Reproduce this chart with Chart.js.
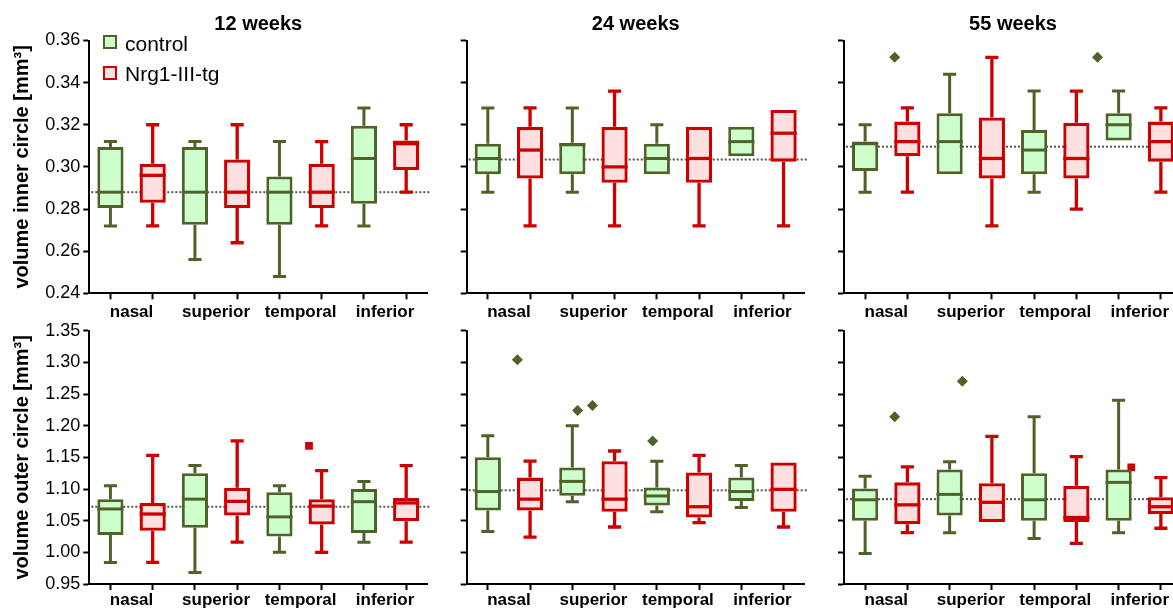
<!DOCTYPE html>
<html><head><meta charset="utf-8">
<script src="https://cdn.jsdelivr.net/npm/chart.js@4.4.0/dist/chart.umd.min.js"></script>
<style>
html,body{margin:0;padding:0;background:#fff;overflow:hidden;width:1173px;height:610px}
#wrap{position:relative;width:1173px;height:610px;overflow:hidden;background:#fff}
canvas{position:absolute}
.lg{position:absolute;font:21px 'Liberation Sans',Arial,sans-serif;line-height:21px;color:#000;white-space:nowrap;z-index:5}
.sw{position:absolute;width:14px;height:14px;box-sizing:border-box;border:2px solid;z-index:5}
</style></head>
<body><div id="wrap">
<canvas id="c0" width="440" height="330" style="left:0px;top:0px"></canvas>
<canvas id="c1" width="380" height="330" style="left:440px;top:0px"></canvas>
<canvas id="c2" width="380" height="330" style="left:820px;top:0px"></canvas>
<canvas id="c3" width="440" height="300" style="left:0px;top:310px"></canvas>
<canvas id="c4" width="380" height="300" style="left:440px;top:310px"></canvas>
<canvas id="c5" width="380" height="300" style="left:820px;top:310px"></canvas>
<div class="sw" id="sw0" style="left:103px;top:35px"></div><div class="lg" id="lg0" style="left:125px;top:33px"></div>
<div class="sw" id="sw1" style="left:103px;top:66px"></div><div class="lg" id="lg1" style="left:125px;top:63px"></div>
</div>
<script>
// ---------- data ----------
const regions = ['nasal', 'superior', 'temporal', 'inferior'];
const groupNames = ['control', 'Nrg1-III-tg'];
const timeTitles = ['12 weeks', '24 weeks', '55 weeks'];
const yTitles = ['volume inner circle [mm³]', 'volume outer circle [mm³]'];
const innerTicks = [0.24, 0.26, 0.28, 0.30, 0.32, 0.34, 0.36];
const outerTicks = [0.95, 1.00, 1.05, 1.10, 1.15, 1.20, 1.25, 1.30, 1.35];

// box summaries per region: [min, q1, median, q3, max]
const inner12Control = [[0.272,0.2805,0.288,0.3095,0.312],[0.256,0.2725,0.288,0.3095,0.312],[0.248,0.2725,0.288,0.2955,0.312],[0.272,0.2825,0.304,0.3195,0.328]];
const inner12Tg      = [[0.272,0.283,0.296,0.3015,0.320],[0.264,0.2805,0.288,0.3035,0.320],[0.272,0.2805,0.288,0.3015,0.312],[0.288,0.2985,0.311,0.3125,0.320]];
const inner24Control = [[0.288,0.2965,0.304,0.311,0.328],[0.288,0.2965,0.3105,0.3115,0.328],[0.2965,0.2965,0.304,0.311,0.320],[0.305,0.305,0.312,0.319,0.319]];
const inner24Tg      = [[0.272,0.2945,0.308,0.319,0.328],[0.272,0.2925,0.300,0.319,0.336],[0.272,0.2925,0.304,0.319,0.319],[0.272,0.3025,0.316,0.327,0.327]];
const inner55Control = [[0.288,0.298,0.311,0.312,0.320],[0.2965,0.2965,0.312,0.3255,0.344],[0.288,0.2965,0.308,0.3175,0.336],[0.3125,0.3125,0.320,0.3255,0.336]];
const inner55Tg      = [[0.288,0.305,0.312,0.3215,0.328],[0.272,0.2945,0.304,0.3235,0.352],[0.280,0.2945,0.304,0.321,0.336],[0.288,0.3025,0.312,0.3215,0.328]];
const outer12Control = [[0.984,1.0275,1.0685,1.084,1.105],[0.968,1.039,1.084,1.125,1.137],[1.000,1.025,1.056,1.095,1.105],[1.016,1.0305,1.080,1.100,1.112]];
const outer12Tg      = [[0.984,1.034,1.0605,1.078,1.153],[1.016,1.058,1.0805,1.102,1.176],[1.000,1.044,1.073,1.084,1.129],[1.016,1.049,1.078,1.086,1.137]];
const outer24Control = [[1.033,1.066,1.096,1.150,1.184],[1.080,1.0895,1.112,1.134,1.200],[1.064,1.074,1.089,1.1025,1.144],[1.071,1.081,1.096,1.118,1.137]];
const outer24Tg      = [[1.024,1.066,1.084,1.118,1.144],[1.040,1.064,1.084,1.144,1.160],[1.047,1.055,1.072,1.126,1.153],[1.040,1.064,1.0995,1.142,1.142]];
const outer55Control = [[0.998,1.050,1.083,1.101,1.120],[1.031,1.058,1.0915,1.131,1.143],[1.022,1.050,1.083,1.125,1.214],[1.031,1.050,1.1105,1.131,1.240]];
const outer55Tg      = [[1.031,1.0445,1.075,1.1105,1.135],[1.048,1.048,1.079,1.109,1.183],[1.014,1.048,1.055,1.105,1.151],[1.038,1.0605,1.072,1.087,1.118]];

// outliers per region
const inner12ControlOut = [[],[],[],[]];
const inner12TgOut      = [[],[],[],[]];
const inner24ControlOut = [[],[],[],[]];
const inner24TgOut      = [[],[],[],[]];
const inner55ControlOut = [[0.352],[],[],[0.352]];
const inner55TgOut      = [[],[],[],[]];
const outer12ControlOut = [[],[],[],[]];
const outer12TgOut      = [[],[],[1.168],[]];
const outer24ControlOut = [[1.304],[1.224,1.232],[1.176],[]];
const outer24TgOut      = [[],[],[],[]];
const outer55ControlOut = [[1.214],[1.270],[],[]];
const outer55TgOut      = [[],[],[],[1.134]];

// dotted reference level per panel
const innerRef = [0.288, 0.3035, 0.3096];
const outerRef = [1.072, 1.098, 1.084];

// ---------- styles / layout ----------
const FONT = "'Liberation Sans', Arial, sans-serif";
const GREEN = '#4f6228', GREEN_FILL = '#ccffcc';
const RED = '#cc0000', RED_FILL = '#ffe0e0';
const colLayout = [{yW: 89.3, padR: 12.7, areaW: 338}, {yW: 26.7, padR: 15.3, areaW: 338}, {yW: 24, padR: 18, areaW: 338}];
const rowLayout = [{xH: 36.7, padTop: 0, tickPad: 3}, {xH: 26, padTop: 20.7, tickPad: 0.6}];

Chart.defaults.font.family = FONT;
Chart.defaults.color = '#000';

const boxPlugin = {
  id: 'boxplot',
  beforeDatasetsDraw(chart, args, opts) {
    const {ctx, chartArea, scales} = chart;
    const y = scales.y;
    const ry = y.getPixelForValue(opts.ref);
    ctx.save();
    ctx.strokeStyle = '#555';
    ctx.lineWidth = 2;
    ctx.setLineDash([2, 2]);
    ctx.beginPath();
    ctx.moveTo(chartArea.left + 2, ry);
    ctx.lineTo(chartArea.right + 3, ry);
    ctx.stroke();
    ctx.restore();
    chart.data.datasets.forEach((ds, i) => {
      if (!ds.stats) return;
      const meta = chart.getDatasetMeta(i);
      meta.data.forEach((el, j) => {
        const s = ds.stats[j];
        if (!s) return;
        const x = el.x, cw = el.width * 0.25;
        ctx.save();
        ctx.strokeStyle = ds.borderColor;
        ctx.lineWidth = ds.borderWidth;
        ctx.beginPath();
        if (s[4] > s[3]) {
          const p3 = y.getPixelForValue(s[3]), pm = y.getPixelForValue(s[4]);
          ctx.moveTo(x, p3); ctx.lineTo(x, pm);
          ctx.moveTo(x - cw, pm); ctx.lineTo(x + cw, pm);
        }
        if (s[0] < s[1]) {
          const p1 = y.getPixelForValue(s[1]), pn = y.getPixelForValue(s[0]);
          ctx.moveTo(x, p1); ctx.lineTo(x, pn);
          ctx.moveTo(x - cw, pn); ctx.lineTo(x + cw, pn);
        }
        ctx.stroke();
        ctx.restore();
      });
    });
  },
  afterDatasetsDraw(chart) {
    const {ctx, scales} = chart;
    const y = scales.y;
    chart.data.datasets.forEach((ds, i) => {
      if (!ds.stats) return;
      const meta = chart.getDatasetMeta(i);
      meta.data.forEach((el, j) => {
        const s = ds.stats[j];
        if (!s) return;
        const pmed = y.getPixelForValue(s[2]);
        ctx.save();
        ctx.strokeStyle = ds.borderColor;
        ctx.lineWidth = ds.borderWidth;
        ctx.beginPath();
        ctx.moveTo(el.x - el.width / 2, pmed);
        ctx.lineTo(el.x + el.width / 2, pmed);
        ctx.stroke();
        ctx.restore();
      });
    });
  }
};

function interleave(stats, slot) {
  const out = new Array(8).fill(null);
  stats.forEach((s, r) => { out[r * 2 + slot] = s; });
  return out;
}
function outlierPoints(outs, slot) {
  const pts = [];
  outs.forEach((vals, r) => {
    vals.forEach((v, k) => {
      const spread = vals.length > 1 ? (k - (vals.length - 1) / 2) * 0.44 : 0;
      pts.push({x: r * 2 + slot + spread, y: v});
    });
  });
  return pts;
}

function makePanel(id, row, col, ctrl, tg, ctrlOut, tgOut, ref, ticks) {
  const cl = colLayout[col], rl = rowLayout[row];
  const labels8 = [];
  regions.forEach(r => { labels8.push(r, r); });
  const ctrlStats = interleave(ctrl, 0), tgStats = interleave(tg, 1);
  new Chart(document.getElementById(id), {
    type: 'bar',
    data: {
      labels: labels8,
      datasets: [
        {label: groupNames[0], data: ctrlStats.map(s => s ? [s[1], s[3]] : null), stats: ctrlStats,
         backgroundColor: GREEN_FILL, borderColor: GREEN, borderWidth: 3, borderSkipped: false},
        {label: groupNames[1], data: tgStats.map(s => s ? [s[1], s[3]] : null), stats: tgStats,
         backgroundColor: RED_FILL, borderColor: RED, borderWidth: 3.3, borderSkipped: false},
        {type: 'scatter', label: groupNames[0] + ' outliers', xAxisID: 'xs', data: outlierPoints(ctrlOut, 0),
         pointStyle: 'rectRot', radius: 5.5, backgroundColor: GREEN, borderColor: GREEN, borderWidth: 0},
        {type: 'scatter', label: groupNames[1] + ' outliers', xAxisID: 'xs', data: outlierPoints(tgOut, 1),
         pointStyle: 'rect', radius: 5.5, backgroundColor: RED, borderColor: RED, borderWidth: 0}
      ]
    },
    options: {
      responsive: false,
      animation: false,
      grouped: false,
      categoryPercentage: 1,
      barPercentage: 0.62,
      layout: {padding: {left: 0, right: cl.padR, top: rl.padTop, bottom: 0}},
      plugins: {
        legend: {display: false},
        tooltip: {enabled: false},
        title: {display: row === 0, text: timeTitles[col], fullSize: false,
                font: {size: 20, weight: 'bold', family: FONT}, color: '#000', padding: {top: 12, bottom: 4.5}},
        boxplot: {ref: ref}
      },
      scales: {
        x: {
          type: 'category', offset: true,
          grid: {offset: false, drawOnChartArea: false, drawTicks: true, tickLength: 6, tickWidth: 2, tickColor: '#000', color: '#000'},
          border: {color: '#000', width: 2},
          ticks: {autoSkip: false, maxRotation: 0, minRotation: 0, labelOffset: cl.areaW / 16, padding: rl.tickPad,
                  font: {size: 17, weight: 'bold', family: FONT}, color: '#000',
                  callback: function(v, i) { return i % 2 === 0 ? this.getLabelForValue(v) : ''; }},
          afterFit: s => { s.height = rl.xH; }
        },
        xs: {type: 'linear', display: false, min: -0.5, max: 7.5},
        y: {
          type: 'linear', min: ticks[0], max: ticks[ticks.length - 1],
          afterBuildTicks: s => { s.ticks = ticks.map(v => ({value: v})); },
          grid: {drawOnChartArea: false, drawTicks: true, tickLength: 6, tickWidth: 2, tickColor: '#000', color: '#000'},
          border: {color: '#000', width: 2},
          ticks: {display: col === 0, padding: 3, font: {size: 18, family: FONT}, color: '#000',
                  callback: v => Number(v).toFixed(2)},
          title: {display: col === 0, text: yTitles[row], font: {size: 20, weight: 'bold', family: FONT}, color: '#000',
                  padding: {top: 10.5, bottom: 0}},
          afterFit: s => { s.width = cl.yW; }
        }
      }
    },
    plugins: [boxPlugin]
  });
}

makePanel('c0', 0, 0, inner12Control, inner12Tg, inner12ControlOut, inner12TgOut, innerRef[0], innerTicks);
makePanel('c1', 0, 1, inner24Control, inner24Tg, inner24ControlOut, inner24TgOut, innerRef[1], innerTicks);
makePanel('c2', 0, 2, inner55Control, inner55Tg, inner55ControlOut, inner55TgOut, innerRef[2], innerTicks);
makePanel('c3', 1, 0, outer12Control, outer12Tg, outer12ControlOut, outer12TgOut, outerRef[0], outerTicks);
makePanel('c4', 1, 1, outer24Control, outer24Tg, outer24ControlOut, outer24TgOut, outerRef[1], outerTicks);
makePanel('c5', 1, 2, outer55Control, outer55Tg, outer55ControlOut, outer55TgOut, outerRef[2], outerTicks);

// legend (HTML text)
document.getElementById('sw0').style.borderColor = GREEN;
document.getElementById('sw0').style.background = GREEN_FILL;
document.getElementById('sw1').style.borderColor = RED;
document.getElementById('sw1').style.background = RED_FILL;
document.getElementById('lg0').textContent = groupNames[0];
document.getElementById('lg1').textContent = groupNames[1];
</script>
</body></html>
